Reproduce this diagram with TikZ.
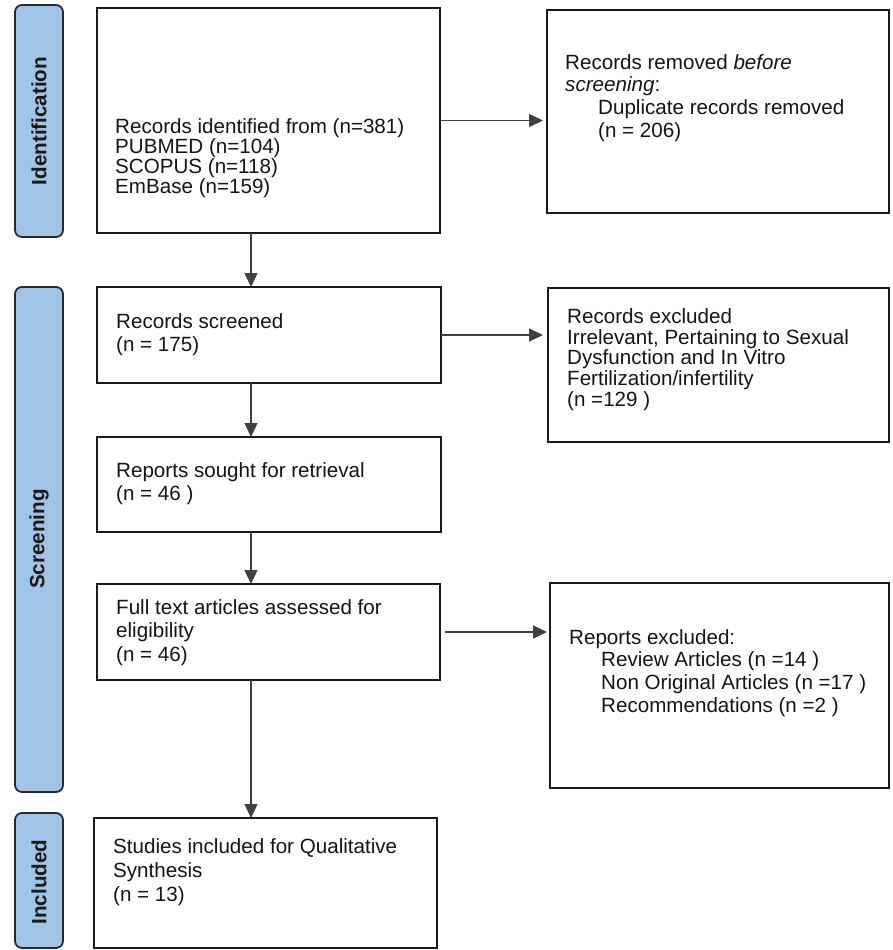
\documentclass[tikz,border=0pt]{standalone}
\usepackage{fontspec}
\setmainfont{Liberation Sans}
\usetikzlibrary{arrows.meta}
\definecolor{barfill}{RGB}{160,196,232}
\definecolor{barline}{RGB}{40,40,45}
\definecolor{boxline}{RGB}{25,25,25}
\tikzset{
  box/.style={draw=boxline, line width=1.8pt, rectangle, inner sep=0pt, outer sep=0pt, anchor=north west},
  sidebar/.style={draw=barline, fill=barfill, line width=1.8pt, rounded corners=7pt},
  sidelabel/.style={rotate=90, font=\fontsize{20.6pt}{22pt}\selectfont\bfseries, text=black!90, inner sep=0pt},
  txt/.style={anchor=north west, align=left, inner sep=0pt, text=black!92},
  arr/.style={-{Triangle[length=14pt,width=13pt]}, line width=1.4pt, draw=black!75},
}
\newcommand{\fs}[1]{\fontsize{20.6pt}{#1pt}\selectfont}
\newcommand{\tp}{\rule{0pt}{16pt}}
\begin{document}
\begin{tikzpicture}[x=1pt,y=-1pt]
\useasboundingbox (0,0) rectangle (893,950);

% side bars
\draw[sidebar] (15,5) rectangle (63,237);
\draw[sidebar] (15,287) rectangle (63,792);
\draw[sidebar] (15,813) rectangle (63,948);
\node[sidelabel] (lid) at (39,121) {Identification};
\node[sidelabel] (lsc) at (39,539) {Screening};
\node[sidelabel] (lin) at (39,882) {Included};

% boxes
\node[box, minimum width=343pt, minimum height=225pt] (b1) at (97,8) {};
\node[box, minimum width=342pt, minimum height=203pt] (r1) at (547,10) {};
\node[box, minimum width=344pt, minimum height=96pt] (b2) at (97,287) {};
\node[box, minimum width=341pt, minimum height=154pt] (r2) at (548,288) {};
\node[box, minimum width=344pt, minimum height=95pt] (b3) at (97,437) {};
\node[box, minimum width=343pt, minimum height=96pt] (b4) at (97,584) {};
\node[box, minimum width=339pt, minimum height=205pt] (r3) at (550,583) {};
\node[box, minimum width=343pt, minimum height=130pt] (b5) at (94,818) {};

% texts
\node[txt, font=\fs{20}] (t1) at (115,117) {\tp Records identified from (n=381)\\PUBMED (n=104)\\SCOPUS (n=118)\\EmBase (n=159)};
\node[txt, font=\fs{22.7}] (t2) at (565,53) {\tp Records removed \textit{before}\\\textit{screening}:\\\hspace{33pt}Duplicate records removed\\\hspace{33pt}(n = 206)};
\node[txt, font=\fs{23.4}] (t3) at (116,312) {\tp Records screened\\(n = 175)};
\node[txt, font=\fs{20.8}] (t4) at (567,307) {\tp Records excluded\\Irrelevant, Pertaining to Sexual\\Dysfunction and In Vitro\\Fertilization/infertility\\(n =129 )};
\node[txt, font=\fs{23}] (t5) at (116,461) {\tp Reports sought for retrieval\\(n = 46 )};
\node[txt, font=\fs{23.5}] (t6) at (116,598) {\tp Full text articles assessed for\\eligibility\\(n = 46)};
\node[txt, font=\fs{22.7}] (t7) at (569,628) {\tp Reports excluded:\\\hspace{32pt}Review Articles (n =14 )\\\hspace{32pt}Non Original Articles (n =17 )\\\hspace{32pt}Recommendations (n =2 )};
\node[txt, font=\fs{24}] (t8) at (113,837) {\tp Studies included for Qualitative\\Synthesis\\(n = 13)};

% connectors
\coordinate (ax) at (251,0);
\draw[arr] (b1.south -| ax) -- (b2.north -| ax);
\draw[arr] (b2.south -| ax) -- (b3.north -| ax);
\draw[arr] (b3.south -| ax) -- (b4.north -| ax);
\draw[arr] (b4.south -| ax) -- (b5.north -| ax);
\draw[arr, shorten >=4pt] (b1.east) -- (r1.west |- b1.east);
\draw[arr, shorten >=5pt] (b2.east) -- (r2.west |- b2.east);
\draw[arr, shorten >=3pt, shorten <=5pt] (b4.east) -- (r3.west |- b4.east);
\end{tikzpicture}
\end{document}
